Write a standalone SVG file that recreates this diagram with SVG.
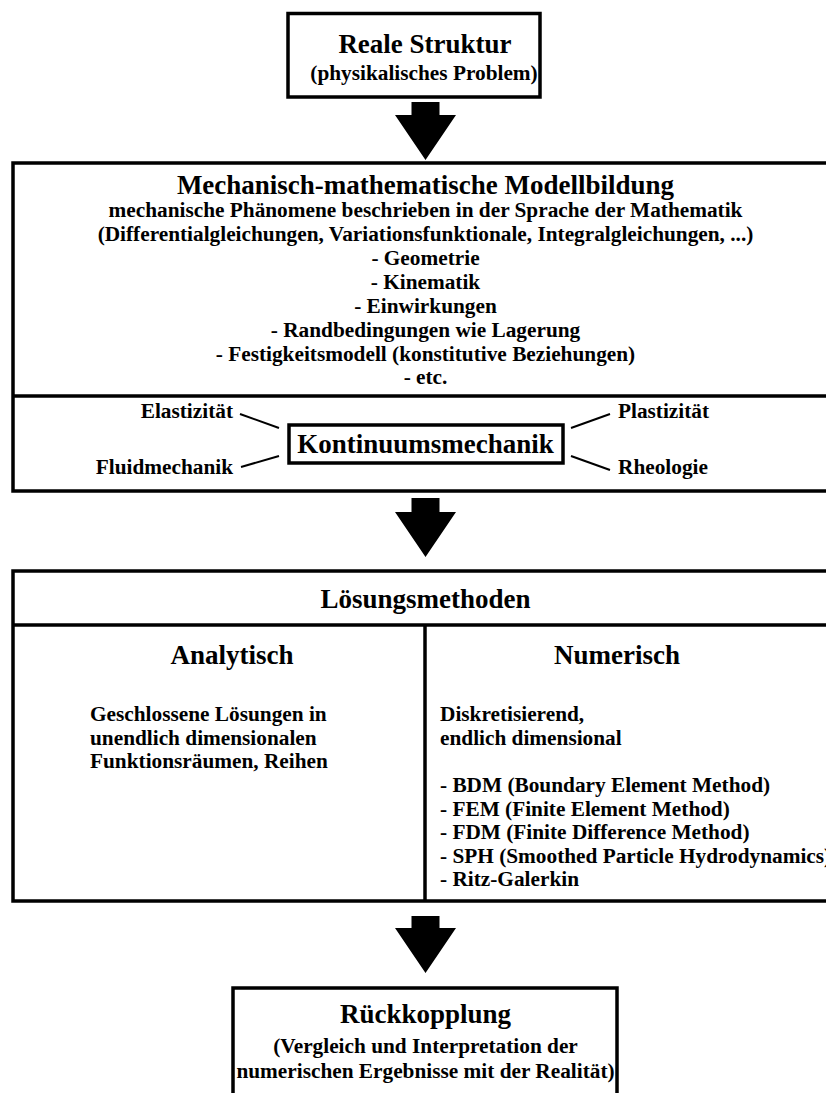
<svg xmlns="http://www.w3.org/2000/svg" width="826" height="1093" viewBox="0 0 826 1093">
<style>
.t{font-family:"Liberation Serif","Times New Roman",serif;font-weight:bold;fill:#000}
.h{font-size:27px}
.b{font-size:21.3px}
.c{text-anchor:middle}
.e{text-anchor:end}
.box{fill:none;stroke:#000;stroke-width:3.5}
.ln{stroke:#000;stroke-width:3.5}
.thin{stroke:#000;stroke-width:2}
.arr{fill:#000}
</style>
<rect width="826" height="1093" fill="#fff"/>
<g id="connectors">
<polygon class="arr" points="411.5,102 439.5,102 439.5,115 456,115 425.5,160 395,115 411.5,115"/>
<polygon class="arr" points="411.5,498 439.5,498 439.5,512 456,512 425.5,557 395,512 411.5,512"/>
<polygon class="arr" points="411.5,916 439.5,916 439.5,928 456,928 425.5,973 395,928 411.5,928"/>
</g>
<g id="reale-struktur">
<rect class="box" x="288" y="13.5" width="252" height="83.5"/>
<text class="t h c" x="425" y="53">Reale Struktur</text>
<text class="t b c" x="424" y="80">(physikalisches Problem)</text>
</g>
<g id="modellbildung">
<rect class="box" x="13" y="163" width="900" height="328"/>
<line class="ln" x1="13" y1="396" x2="913" y2="396"/>
<text class="t h c" x="425.5" y="194">Mechanisch-mathematische Modellbildung</text>
<text class="t b c" x="425.5" y="217">mechanische Phänomene beschrieben in der Sprache der Mathematik</text>
<text class="t b c" x="425.5" y="241">(Differentialgleichungen, Variationsfunktionale, Integralgleichungen, ...)</text>
<text class="t b c" x="425.5" y="265">- Geometrie</text>
<text class="t b c" x="425.5" y="289">- Kinematik</text>
<text class="t b c" x="425.5" y="313">- Einwirkungen</text>
<text class="t b c" x="425.5" y="337">- Randbedingungen wie Lagerung</text>
<text class="t b c" x="425.5" y="361">- Festigkeitsmodell (konstitutive Beziehungen)</text>
<text class="t b c" x="425.5" y="384">- etc.</text>
</g>
<g id="kontinuumsmechanik">
<rect class="box" x="289" y="425" width="274" height="38"/>
<text class="t h c" x="425.5" y="453">Kontinuumsmechanik</text>
<text class="t b e" x="233" y="418">Elastizität</text>
<text class="t b e" x="233" y="474">Fluidmechanik</text>
<text class="t b" x="618" y="418">Plastizität</text>
<text class="t b" x="618" y="474">Rheologie</text>
<line class="thin" x1="240" y1="414" x2="279" y2="428"/>
<line class="thin" x1="241" y1="467" x2="279" y2="456"/>
<line class="thin" x1="571" y1="428" x2="610" y2="414"/>
<line class="thin" x1="571" y1="456" x2="610" y2="470"/>
</g>
<g id="loesungsmethoden">
<rect class="box" x="13" y="571" width="900" height="330"/>
<line class="ln" x1="13" y1="625" x2="913" y2="625"/>
<line class="ln" x1="425" y1="625" x2="425" y2="901"/>
<text class="t h c" x="425.5" y="608">Lösungsmethoden</text>
</g>
<g id="analytisch">
<text class="t h c" x="232" y="664">Analytisch</text>
<text class="t b" x="90" y="721">Geschlossene Lösungen in</text>
<text class="t b" x="90" y="745">unendlich dimensionalen</text>
<text class="t b" x="90" y="768">Funktionsräumen, Reihen</text>
</g>
<g id="numerisch">
<text class="t h c" x="617" y="664">Numerisch</text>
<text class="t b" x="440" y="721">Diskretisierend,</text>
<text class="t b" x="440" y="745">endlich dimensional</text>
<text class="t b" x="440" y="792">- BDM (Boundary Element Method)</text>
<text class="t b" x="440" y="816">- FEM (Finite Element Method)</text>
<text class="t b" x="440" y="839">- FDM (Finite Difference Method)</text>
<text class="t b" x="440" y="863">- SPH (Smoothed Particle Hydrodynamics)</text>
<text class="t b" x="440" y="886">- Ritz-Galerkin</text>
</g>
<g id="rueckkopplung">
<rect class="box" x="233" y="988" width="384" height="200"/>
<text class="t h c" x="425.5" y="1023">Rückkopplung</text>
<text class="t b c" x="425.5" y="1053">(Vergleich und Interpretation der</text>
<text class="t b c" x="425.5" y="1078">numerischen Ergebnisse mit der Realität)</text>
</g>
</svg>
